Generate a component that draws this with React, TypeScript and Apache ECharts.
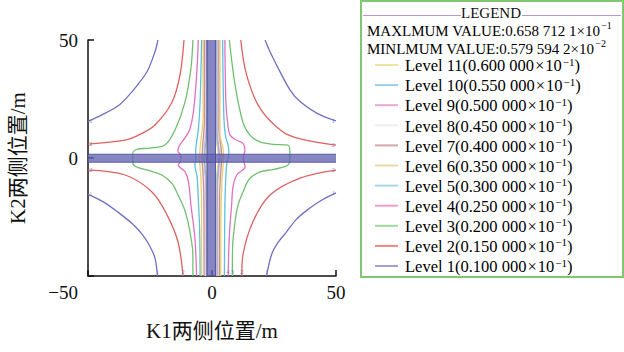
import React, { useEffect, useRef } from "react";
import * as echarts from "echarts";

const SERIF = "'Liberation Serif', 'Times New Roman', 'Noto Sans CJK SC', serif";

// axis
const axisMin = -50;
const axisMax = 50;
const axisStep = 50;
const xAxisName = "K1两侧位置/m";
const yAxisName = "K2两侧位置/m";

// legend
const legendTitle = "LEGEND";
const maxText = "MAXLMUM VALUE:0.658 712 1×10";
const maxExp = "−1";
const minText = "MINLMUM VALUE:0.579 594 2×10";
const minExp = "−2";
const levelNumbers = [11, 10, 9, 8, 7, 6, 5, 4, 3, 2, 1];
const levelValues = ["0.600 000", "0.550 000", "0.500 000", "0.450 000", "0.400 000", "0.350 000", "0.300 000", "0.250 000", "0.200 000", "0.150 000", "0.100 000"];
const legendColors = ["#ece6a0", "#98d0ea", "#e8a8d0", "#eeeeee", "#d8a8a8", "#e6daa8", "#a8d8e8", "#f0a0c8", "#a0d8a0", "#e88888", "#a0a0d8"];

// plot colours by level (index = level - 1)
const lineColors = ["#7070c0", "#e06060", "#70c070", "#e070c0", "#5cc0e0", "#e8d070", "#c89090", "#e2e2e2", "#e090d0", "#70c8e8", "#e8e070"];

// contour curves [x, y]
const lvl1TL = [[-21.8, 50], [-23, 45], [-26, 37], [-30, 31], [-34, 26], [-38, 22], [-44, 18.5], [-50, 15.5]];
const lvl1TR = [[21.4, 50], [23.4, 45], [27.4, 36.6], [31.5, 28.8], [35.5, 23.9], [42.2, 19], [50, 15.7]];
const lvl1BL = [[-50, -15.4], [-44, -18.5], [-38, -22.9], [-32, -28], [-28, -32.6], [-25, -37.5], [-23, -42.4], [-22, -50]];
const lvl1BR = [[50, -14.8], [44, -18], [39.5, -21.2], [34, -26], [30, -31.4], [26.5, -36], [24, -41], [22, -50]];

const lvl2TL = [[-11.3, 50], [-12.9, 35.2], [-16.1, 23.7], [-23, 14], [-30, 9.5], [-35, 7.6], [-50, 5.9]];
const lvl2TR = [[11.6, 50], [14, 35], [19.4, 21], [28.6, 11], [36, 8], [50, 5.5]];
const lvl2BL = [[-50, -5.1], [-35, -7.2], [-24.2, -14.4], [-18.1, -24.2], [-13.7, -35.6], [-11.7, -50]];
const lvl2BR = [[50, -5.1], [35.5, -8.5], [23.4, -15.7], [16.5, -27], [12.5, -41], [12, -50]];

const lvl3L = [[-7.7, 50], [-8.5, 38], [-10.9, 23.7], [-14.9, 11.9], [-19, 5.5], [-25, 4.2], [-30.5, 3.6], [-32, 1.5], [-32, -1.5], [-31, -3.5], [-25, -5.5], [-20.2, -7.2], [-16, -11], [-13.7, -15.7], [-11, -22], [-9.7, -27], [-8.3, -35], [-7.7, -41], [-7.7, -50]];
const lvl3R = [[7, 50], [9.3, 31], [12.5, 15], [15.5, 9.5], [19.4, 6.8], [25, 5.8], [30.6, 5.5], [31.4, 2.5], [31.4, 0], [30.6, -3], [25, -4.8], [19.4, -5.9], [15, -9], [12.5, -14.4], [10.5, -20], [9.3, -27], [8.3, -38], [8.2, -50]];

const lvl4L = [[-5.5, 50], [-6.2, 35], [-7.5, 19.5], [-9, 12], [-10.9, 8.5], [-13, 5.5], [-13.8, 3], [-12.5, 1], [-12.5, -1], [-13.6, -3], [-10.9, -5.8], [-9.5, -10], [-8.5, -19.9], [-6.9, -33.9], [-6.2, -50]];
const lvl4R = [[5.2, 50], [5.6, 23.7], [6.3, 15], [7.3, 9.7], [10, 7.5], [12.5, 6.2], [13.3, 3.4], [12.6, 0], [13.3, -3.7], [10, -7.2], [8.5, -12], [7.9, -20], [7, -33], [6.5, -50]];

const lvl5L = [[-4.2, 50], [-4.8, 23.7], [-5.5, 12], [-6.2, 6.8], [-6.6, 2.5], [-6.5, 0], [-6.9, -3], [-6, -8], [-5.6, -15.7], [-5, -30], [-4.8, -50]];
const lvl5R = [[4.3, 50], [4.8, 17], [5.5, 9], [6.5, 5.5], [6.8, 2], [6.5, 0], [5.9, -3], [5.5, -10], [5.2, -20], [5, -50]];

const lvl6L = [[-3.6, 50], [-3.6, 17], [-4.4, 8], [-4.8, 4.2], [-5, 0], [-4.8, -4], [-4.4, -10], [-4.2, -25], [-4.2, -50]];
const lvl6R = [[3.2, 50], [3.2, 9.7], [4.4, 4.2], [4.6, 0], [4.4, -4], [4, -10], [3.6, -25], [3.5, -50]];
const lvl7L = [[-3.1, 50], [-3.1, 15], [-3.7, 6], [-4, 0], [-3.7, -6], [-3.3, -15], [-3.2, -50]];
const lvl7R = [[2.8, 50], [2.8, 12], [3.6, 5], [3.9, 0], [3.6, -5], [3.1, -15], [3, -50]];
const lvl8L = [[-2.8, 50], [-2.8, 12], [-3.4, 5], [-3.6, 0], [-3.4, -5], [-2.9, -12], [-2.8, -50]];
const lvl8R = [[2.5, 50], [2.5, 11], [3.2, 5], [3.5, 0], [3.2, -5], [2.7, -12], [2.6, -50]];
const lvl9L = [[-2.5, 50], [-2.5, 12], [-3.1, 5], [-3.3, 0], [-3.1, -5], [-2.6, -12], [-2.5, -50]];
const lvl9R = [[2.2, 50], [2.2, 10], [2.9, 4.5], [3.1, 0], [2.9, -4.5], [2.4, -10], [2.3, -50]];
const lvl10L = [[-2.2, 50], [-2.2, 10], [-2.8, 4], [-3, 0], [-2.8, -4], [-2.3, -10], [-2.2, -50]];
const lvl10R = [[1.9, 50], [1.9, 9], [2.6, 4], [2.8, 0], [2.6, -4], [2.1, -9], [2, -50]];
const lvl11L = [[-1.9, 50], [-1.9, 8], [-2.5, 3.5], [-2.7, 0], [-2.5, -3.5], [-2, -8], [-1.9, -50]];
const lvl11R = [[1.6, 50], [1.6, 8], [2.3, 3.5], [2.5, 0], [2.3, -3.5], [1.8, -8], [1.7, -50]];

// thick cross bands
const bandH = [[-50, -0.1], [50, -0.1]];
const bandV = [[-0.3, 50], [-0.3, -50]];
const bandHEdges = [[[-50, 1.6], [50, 1.6]], [[-50, -1.8], [50, -1.8]]];
const bandVEdges = [[[1.4, 50], [1.4, -50]], [[-2.0, 50], [-2.0, -50]]];

const curves: { level: number; data: number[][] }[] = [
  { level: 11, data: lvl11L }, { level: 11, data: lvl11R },
  { level: 10, data: lvl10L }, { level: 10, data: lvl10R },
  { level: 9, data: lvl9L }, { level: 9, data: lvl9R },
  { level: 8, data: lvl8L }, { level: 8, data: lvl8R },
  { level: 7, data: lvl7L }, { level: 7, data: lvl7R },
  { level: 6, data: lvl6L }, { level: 6, data: lvl6R },
  { level: 5, data: lvl5L }, { level: 5, data: lvl5R },
  { level: 4, data: lvl4L }, { level: 4, data: lvl4R },
  { level: 3, data: lvl3L }, { level: 3, data: lvl3R },
  { level: 2, data: lvl2TL }, { level: 2, data: lvl2TR }, { level: 2, data: lvl2BL }, { level: 2, data: lvl2BR },
  { level: 1, data: lvl1TL }, { level: 1, data: lvl1TR }, { level: 1, data: lvl1BL }, { level: 1, data: lvl1BR },
];

const fmt = (v: number) => (v < 0 ? "−" + Math.abs(v) : String(v));

export default function App() {
  const ref = useRef<HTMLDivElement>(null);
  useEffect(() => {
    document.body.style.margin = "0";
    const chart = echarts.init(ref.current!, null, { renderer: "svg" });

    const series: any[] = [];
    curves.forEach((c) => {
      series.push({
        type: "line",
        name: "Level " + c.level,
        data: c.data,
        smooth: 0.35,
        symbol: "none",
        lineStyle: { color: lineColors[c.level - 1], width: 1.3 },
        z: 2,
      });
    });
    // small contour labels at the ends of the outer curves
    const labelPts: any[] = [];
    curves.forEach((c) => {
      if (c.level > 4) return;
      [c.data[0], c.data[c.data.length - 1]].forEach((p) => {
        let pos = "top";
        if (p[0] <= -50) pos = "right";
        else if (p[0] >= 50) pos = "left";
        else if (p[1] >= 50) return;
        if (pos === "top" && c.level > 2 && p[0] < 0) return;
        labelPts.push({
          value: p,
          label: { show: true, position: pos, distance: 1, formatter: String(c.level), color: "#6a6ab0", fontSize: 7, fontFamily: SERIF },
        });
      });
    });
    series.push({ type: "scatter", data: labelPts, symbolSize: 0, z: 3, silent: true });

    series.push({ type: "line", data: bandH, symbol: "none", lineStyle: { color: "rgba(100,100,180,0.78)", width: 8 }, z: 4 });
    series.push({ type: "line", data: bandV, symbol: "none", lineStyle: { color: "rgba(100,100,180,0.78)", width: 9 }, z: 4 });
    bandHEdges.concat(bandVEdges).forEach((d) => {
      series.push({ type: "line", data: d, symbol: "none", lineStyle: { color: "rgba(75,75,155,0.85)", width: 1 }, z: 5 });
    });

    const supRich = (fs: number, ss: number) => ({
      b: { fontSize: fs, fontFamily: SERIF, color: "#111", lineHeight: 18, verticalAlign: "bottom" },
      x: { fontSize: fs, fontFamily: SERIF, color: "#111", lineHeight: 18, verticalAlign: "bottom", padding: [0, 1, 0, 1] },
      s: { fontSize: ss, fontFamily: SERIF, color: "#111", lineHeight: 18, verticalAlign: "top", padding: [0, 0, 0, 1] },
    });

    const legendChildren: any[] = [
      { type: "rect", shape: { x: 361, y: 1, width: 262, height: 276 }, style: { fill: "#fff", stroke: "#80c870", lineWidth: 2 } },
      { type: "line", shape: { x1: 363, y1: 15.5, x2: 461, y2: 15.5 }, style: { stroke: "#b898d0", lineWidth: 1.2 } },
      { type: "line", shape: { x1: 522, y1: 15.5, x2: 621, y2: 15.5 }, style: { stroke: "#b898d0", lineWidth: 1.2 } },
      { type: "text", x: 491, y: 13, style: { text: legendTitle, fontSize: 15, fontFamily: SERIF, fill: "#111", align: "center", verticalAlign: "middle" } },
      { type: "text", x: 367, y: 29, style: { text: "{b|" + maxText + "}{s|" + maxExp + "}", rich: supRich(15, 10), verticalAlign: "middle" } },
      { type: "text", x: 367, y: 47, style: { text: "{b|" + minText + "}{s|" + minExp + "}", rich: supRich(15, 10), verticalAlign: "middle" } },
    ];
    levelNumbers.forEach((n, i) => {
      const y = 65 + i * 20.1;
      const val = levelValues[i];
      legendChildren.push({ type: "line", shape: { x1: 375, y1: y, x2: 398, y2: y }, style: { stroke: legendColors[i], lineWidth: 2 } });
      legendChildren.push({
        type: "text", x: 405, y: y,
        style: { text: "{b|Level " + n + "(" + val + "}{x|×}{b|10}{s|−1}{b|)}", rich: supRich(16.5, 11), verticalAlign: "middle" },
      });
    });

    chart.setOption({
      animation: false,
      grid: { left: 88, right: 288, top: 40, bottom: 76 },
      xAxis: {
        type: "value", min: axisMin, max: axisMax, interval: axisStep,
        name: xAxisName, nameLocation: "middle", nameGap: 44,
        nameTextStyle: { fontSize: 21, fontFamily: SERIF, color: "#111" },
        axisLine: { onZero: false, lineStyle: { color: "#111", width: 1.5 } },
        axisTick: { inside: true, length: 6, lineStyle: { color: "#111", width: 1.5 } },
        axisLabel: { margin: 7, fontSize: 19, fontFamily: SERIF, color: "#111", formatter: (v: number) => (v === axisMin ? "" : fmt(v)) },
        splitLine: { show: false },
      },
      yAxis: {
        type: "value", min: axisMin, max: axisMax, interval: axisStep,
        name: yAxisName, nameLocation: "middle", nameGap: 60,
        nameTextStyle: { fontSize: 21, fontFamily: SERIF, color: "#111" },
        axisLine: { onZero: false, lineStyle: { color: "#111", width: 1.5 } },
        axisTick: { inside: true, length: 6, lineStyle: { color: "#111", width: 1.5 } },
        axisLabel: {
          margin: 10, fontSize: 19, fontFamily: SERIF, color: "#111",
          formatter: (v: number) => (v === axisMin ? "{lo|" + fmt(v) + "}" : fmt(v)),
          rich: { lo: { fontSize: 19, fontFamily: SERIF, color: "#111", padding: [32, 0, 0, 0] } },
        },
        splitLine: { show: false },
      },
      series,
      graphic: [{ type: "group", children: legendChildren }],
    });
    return () => chart.dispose();
  }, []);
  return <div ref={ref} style={{ width: 624, height: 352 }} />;
}
